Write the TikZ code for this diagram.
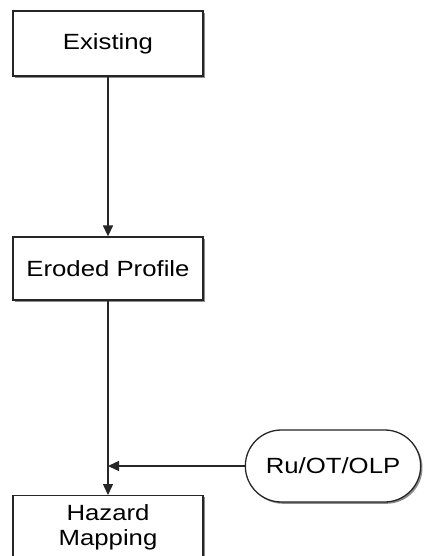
\documentclass[tikz,border=0pt]{standalone}
\usepackage{fontspec}
\newfontfamily\diagfont[FakeStretch=1.17]{Liberation Sans}
\usetikzlibrary{arrows.meta, shapes.misc, shadows}

\begin{document}
\begin{tikzpicture}[x=1pt, y=-1pt,
    stepbox/.style={draw=black!85, line width=1.3pt, fill=white, minimum width=190pt,
        align=center, font=\diagfont\fontsize{22}{25}\selectfont,
        drop shadow={shadow xshift=1.8pt, shadow yshift=-1.8pt, fill=black!45, opacity=1}},
    terminal/.style={rounded rectangle, draw=black!85, line width=1.3pt, fill=white,
        minimum width=182pt, minimum height=72pt, font=\diagfont\fontsize{22}{25}\selectfont,
        drop shadow={shadow xshift=1.8pt, shadow yshift=-1.8pt, fill=black!45, opacity=1}},
    flow/.style={draw=black!85, line width=1.3pt, -{Triangle[length=11pt, width=10pt]}}]
    \clip (0,0) rectangle (425,556);
    \fill[white] (0,0) rectangle (425,556);
    % blocks
    \node[stepbox, minimum height=65pt] (existing) at (108,43.5) {Existing};
    \node[stepbox, minimum height=63pt] (eroded) at (108,268.5) {Eroded Profile};
    \node[stepbox, anchor=north, inner ysep=9pt] (hazard) at (108,495) {Hazard\\Mapping};
    \node[terminal] (ruotolp) at (333,466) {Ru/OT/OLP};
    \coordinate (join) at (eroded.south |- ruotolp.west);
    % connectors
    \draw[flow] (existing) -- (eroded);
    \draw[flow] (eroded) -- (hazard);
    \draw[flow] (ruotolp) -- (join);
\end{tikzpicture}
\end{document}
